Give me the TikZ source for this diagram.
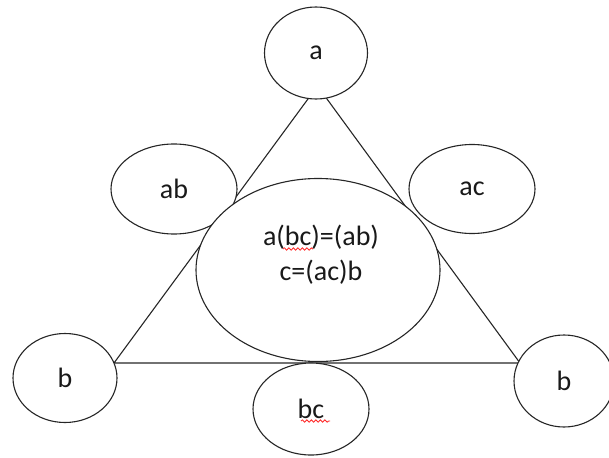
\documentclass[tikz,border=0pt]{standalone}
\usepackage{fontspec}
\setmainfont{Carlito}
\usepackage{tikz}
\usetikzlibrary{shapes.geometric, decorations.pathmorphing}

\tikzset{
  bubble/.style={ellipse, draw=black!85, fill=white, line width=1.1pt, inner sep=0pt,
    text=black!90, font=\fontsize{28}{35}\selectfont},
  side/.style={draw=black!85, line width=1.1pt},
  squiggle/.style={draw=red!85, line width=0.8pt,
    decorate, decoration={snake, amplitude=1.2pt, segment length=4.5pt}}
}

\begin{document}
\begin{tikzpicture}[x=1pt, y=-1pt]
  \useasboundingbox (0,0) rectangle (609,457);
  % triangle corners sit behind the a and b bubbles
  \coordinate (top) at (317.5,86);
  \coordinate (left) at (114,363);
  \coordinate (right) at (520,363);
  \draw[side] (top) -- (left) -- (right) -- cycle;
  % bubbles: name at (cx,cy) with size 2rx x 2ry
  \node[bubble, minimum width=103pt, minimum height=92pt] (a) at (316,53) {a};
  \node[bubble, minimum width=126pt, minimum height=90pt] (ab) at (174,189) {ab};
  \node[bubble, minimum width=126pt, minimum height=89pt] (ac) at (472,189) {ac};
  \node[bubble, minimum width=104pt, minimum height=89pt] (bl) at (65,378) {b};
  \node[bubble, minimum width=100pt, minimum height=92pt] (br) at (564,381) {b};
  \node[bubble, minimum width=116pt, minimum height=92pt] (bc) at (311,409) {bc};
  \node[bubble, minimum width=244pt, minimum height=183pt] (rule) at (318,270) {};
  \node[text=black!90, font=\fontsize{28}{35}\selectfont, align=center] (law) at (321,255)
    {a(bc)=(ab)\\c=(ac)b};
  % spell-check marks
  \draw[squiggle] (283,249) -- (313,249);
  \draw[squiggle] (301,421) -- (330,421);
\end{tikzpicture}
\end{document}
